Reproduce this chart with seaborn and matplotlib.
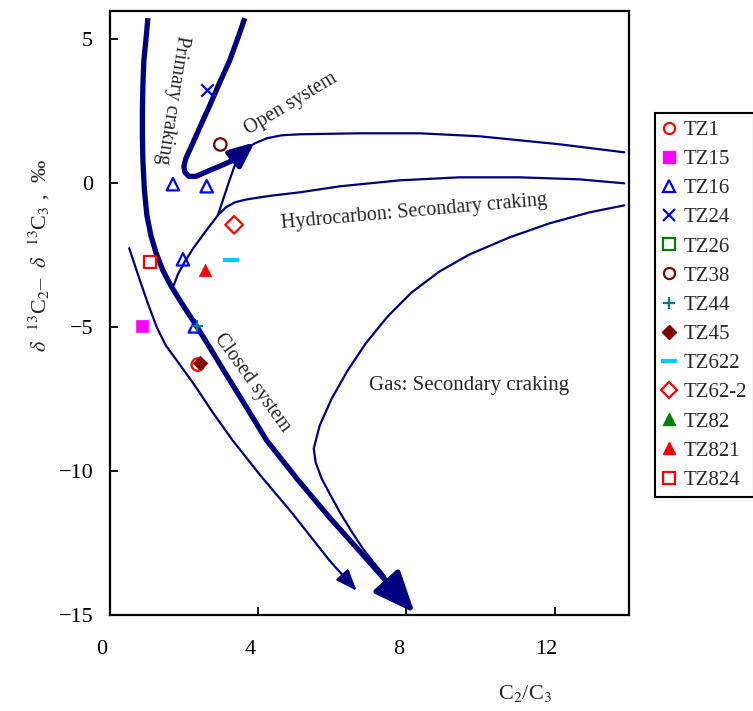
import matplotlib
matplotlib.use("Agg")
import matplotlib.pyplot as plt
from matplotlib.lines import Line2D
from matplotlib.transforms import ScaledTranslation
import seaborn as sns

# ── DATA ──────────────────────────────────────────────────────────────────────
# samples: C2/C3 ratio and d13C2 - d13C3 (per mil)
sample_names = ["TZ1", "TZ15", "TZ16", "TZ24", "TZ26", "TZ38", "TZ44",
                "TZ45", "TZ622", "TZ62-2", "TZ82", "TZ821", "TZ824"]
sample_x = [[2.37], [0.86], [1.70, 2.61, 1.97, 2.29], [2.61], [], [2.98], [2.35],
            [2.43], [3.28], [3.35], [], [2.56], [1.08]]
sample_y = [[-6.30], [-4.94], [-0.03, -0.10, -2.64, -4.97], [3.26], [], [1.35], [-4.94],
            [-6.24], [-2.68], [-1.44], [], [-3.00], [-2.74]]

# interpretation curves
closed_main_x = [1.024, 0.970, 0.916, 0.889, 0.876, 0.876, 0.889, 0.930, 0.997, 1.105, 1.240,
                 1.429, 1.671, 1.941, 2.291, 2.695, 3.154, 3.639, 4.232, 5.067, 5.930, 8.221]
closed_main_y = [5.739, 4.974, 4.278, 3.409, 2.539, 1.670, 0.800, -0.243, -1.113, -1.809, -2.400,
                 -3.026, -3.617, -4.174, -4.870, -5.704, -6.678, -7.687, -8.939, -10.296, -11.617, -14.922]

open_x = [3.639, 3.450, 3.235, 2.965, 2.695, 2.426, 2.210, 2.049, 1.995, 2.022, 2.129,
          2.318, 2.695, 3.019, 3.315, 3.908]
open_y = [5.739, 5.043, 4.278, 3.513, 2.713, 1.948, 1.322, 0.870, 0.591, 0.383, 0.243,
          0.243, 0.452, 0.626, 0.800, 1.426]

closed_thin_x = [0.512, 0.674, 0.809, 1.024, 1.267, 1.509, 1.806, 2.291, 2.776, 3.315,
                 4.043, 4.906, 5.930, 6.658]
closed_thin_y = [-2.226, -2.852, -3.374, -4.174, -5.009, -5.635, -6.157, -7.026, -7.965, -8.939,
                 -10.122, -11.443, -13.113, -14.157]

hc_upper_x = [2.911, 3.073, 3.235, 3.369, 3.504, 3.666, 3.908, 4.232, 4.636, 5.121,
              6.739, 8.356, 9.973, 12.129, 13.881]
hc_upper_y = [-1.113, -0.487, 0.139, 0.626, 0.939, 1.183, 1.391, 1.565, 1.670, 1.704,
              1.739, 1.739, 1.635, 1.357, 1.078]

hc_lower_x = [1.698, 1.833, 2.022, 2.264, 2.561, 2.911, 3.127, 3.369, 3.693, 4.313, 5.121,
              6.199, 7.817, 9.434, 11.051, 12.668, 13.881]
hc_lower_y = [-3.617, -3.165, -2.713, -2.226, -1.704, -1.113, -0.835, -0.661, -0.557, -0.435, -0.313,
              -0.104, 0.104, 0.209, 0.209, 0.139, 0.0]

gas_x = [13.881, 12.938, 11.860, 10.782, 9.704, 8.895, 8.140, 7.493, 6.900, 6.415, 5.984,
         5.660, 5.499, 5.553, 5.714, 5.957, 6.226, 6.523, 6.846, 7.143, 7.412]
gas_y = [-0.765, -1.009, -1.391, -1.878, -2.470, -3.061, -3.791, -4.626, -5.565, -6.504, -7.478,
         -8.417, -9.217, -9.704, -10.261, -10.852, -11.478, -12.104, -12.730, -13.217, -13.635]

# ── STYLE ─────────────────────────────────────────────────────────────────────
sns.set_theme(style="white")
plt.rcParams["font.family"] = ["Liberation Serif", "DejaVu Serif"]
plt.rcParams["mathtext.fontset"] = "stix"
NAVY = "#000080"

STYLES = {
    "TZ1":    dict(marker="o", color="#FF0000", filled=False),
    "TZ15":   dict(marker="s", color="#FF00FF", filled=True),
    "TZ16":   dict(marker="^", color="#0000FF", filled=False),
    "TZ24":   dict(marker="x", color="#0000FF", filled=None),
    "TZ26":   dict(marker="s", color="#008000", filled=False),
    "TZ38":   dict(marker="o", color="#800000", filled=False),
    "TZ44":   dict(marker="+", color="#008080", filled=None),
    "TZ45":   dict(marker="D", color="#800000", filled=True),
    "TZ622":  dict(marker="_", color="#00CCFF", filled=None),
    "TZ62-2": dict(marker="D", color="#FF0000", filled=False),
    "TZ82":   dict(marker="^", color="#008000", filled=True),
    "TZ821":  dict(marker="^", color="#FF0000", filled=True),
    "TZ824":  dict(marker="s", color="#FF0000", filled=False),
}

fig = plt.figure(figsize=(7.53, 7.11), dpi=100)
ax = fig.add_axes([0.146, 0.135, 0.689, 0.850])

# ── CURVES ────────────────────────────────────────────────────────────────────
def arrow_curve(xs, ys, lw, head):
    ax.plot(xs[:-1], ys[:-1], color=NAVY, lw=lw, solid_capstyle="butt",
            solid_joinstyle="round", zorder=3)
    ax.annotate("", xy=(xs[-1], ys[-1]), xytext=(xs[-2], ys[-2]),
                arrowprops=dict(arrowstyle=head, color=NAVY, lw=lw, mutation_scale=10,
                                shrinkA=0, shrinkB=0),
                zorder=3)

arrow_curve(closed_main_x, closed_main_y, 3.8, "-|>,head_length=2.5,head_width=1.05")
arrow_curve(open_x, open_y, 3.8, "-|>,head_length=1.5,head_width=0.65")
arrow_curve(closed_thin_x, closed_thin_y, 1.6, "-|>,head_length=1.3,head_width=0.5")

for cx, cy in [(hc_upper_x, hc_upper_y), (hc_lower_x, hc_lower_y), (gas_x, gas_y)]:
    ax.plot(cx, cy, color=NAVY, lw=1.6, solid_joinstyle="round", zorder=3)

# ── SAMPLES ───────────────────────────────────────────────────────────────────
handles = []
for name, xs, ys in zip(sample_names, sample_x, sample_y):
    st = STYLES[name]
    kw = dict(marker=st["marker"], s=80, ax=ax, legend=False, zorder=4)
    hkw = dict(marker=st["marker"], linestyle="none", markersize=8)
    if st["filled"] is False:
        kw.update(facecolors="none", edgecolors=st["color"], linewidths=1.6)
        hkw.update(markerfacecolor="none", markeredgecolor=st["color"], markeredgewidth=1.6)
    elif st["filled"] is True:
        kw.update(color=st["color"], edgecolor=st["color"], linewidth=0.5)
        hkw.update(color=st["color"])
        if st["marker"] == "D":
            kw["s"] = 55
            hkw["markersize"] = 7
    else:
        lw = 3.0 if st["marker"] == "_" else 1.6
        kw.update(color=st["color"], linewidth=lw)
        hkw.update(color=st["color"], markeredgewidth=lw)
        if st["marker"] == "_":
            kw["s"] = 120
            hkw["markersize"] = 11
    if xs:
        sns.scatterplot(x=xs, y=ys, **kw)
    handles.append(Line2D([], [], label=name, **hkw))

# ── TEXT ──────────────────────────────────────────────────────────────────────
FS = 14.5
ax.text(1.67, 2.89, "Primary craking", rotation=-99, ha="center", va="center", fontsize=FS)
ax.text(4.88, 2.75, "Open system", rotation=31, ha="center", va="center", fontsize=FS)
ax.text(8.22, -1.01, "Hydrocarbon: Secondary craking", rotation=5, ha="center", va="center", fontsize=FS)
ax.text(9.70, -7.03, "Gas: Secondary craking", ha="center", va="center", fontsize=15)
ax.text(3.83, -6.92, "Closed system", rotation=-54, ha="center", va="center", fontsize=FS)

# ── AXES ──────────────────────────────────────────────────────────────────────
ax.set_xlim(0, 14)
ax.set_ylim(-15, 6)
ax.set_xticks([0, 4, 8, 12])
ax.set_yticks([5, 0, -5, -10, -15])
ax.tick_params(direction="in", length=6, width=1.3, labelsize=16, colors="black",
               bottom=True, left=True)
ax.tick_params(axis="y", pad=12)
ax.tick_params(axis="x", pad=18)
shift = ScaledTranslation(-8 / 100, 0, fig.dpi_scale_trans)
for lab in ax.get_xticklabels():
    lab.set_transform(lab.get_transform() + shift)
for sp in ax.spines.values():
    sp.set_color("black")
    sp.set_linewidth(1.6)
ax.grid(False)

ax.set_xlabel("C$_2$/C$_3$", fontsize=16)
ax.xaxis.set_label_coords(0.80, -0.112)
ax.set_ylabel(r"$\delta$  $^{13}$C$_2$–  $\delta$  $^{13}$C$_3$ ,  ‰", fontsize=16)
ax.yaxis.set_label_coords(-0.112, 0.595)

leg = fig.legend(handles=handles, loc="upper left", bbox_to_anchor=(0.8699, 0.8411),
                 borderaxespad=0, frameon=True, fancybox=False, edgecolor="black",
                 framealpha=1, fontsize=15, handlelength=0.6, handletextpad=0.4,
                 labelspacing=0.46, borderpad=0.35)
leg.get_frame().set_linewidth(1.5)

fig.savefig("out.png", dpi=100)
